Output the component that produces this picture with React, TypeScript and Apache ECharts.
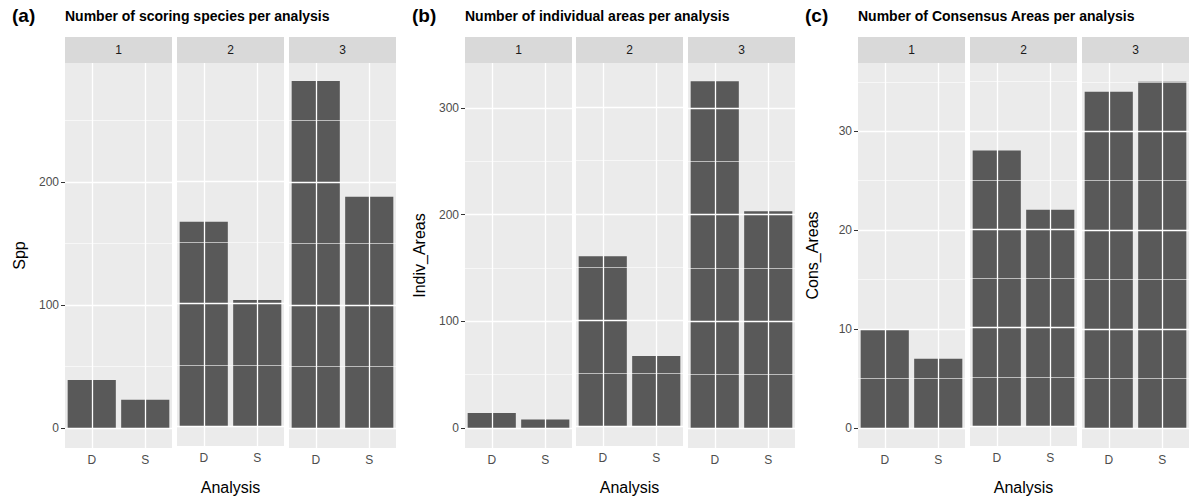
import { useEffect, useRef } from "react";
import * as echarts from "echarts";

const analyses = ["D", "S"];
const facets = ["1", "2", "3"];

const sppValues = [[39, 23], [167, 103], [282, 188]];
const indivValues = [[14, 8], [160, 66], [325, 203]];
const consValues = [[10, 7], [28, 22], [34, 35]];

const sppMajor = [0, 100, 200];
const sppMinor = [50, 150, 250];
const indivMajor = [0, 100, 200, 300];
const indivMinor = [50, 150, 250];
const consMajor = [0, 10, 20, 30];
const consMinor = [5, 15, 25, 35];

const panels = [
  { letter: "(a)", title: "Number of scoring species per analysis", yName: "Spp", values: sppValues, major: sppMajor, minor: sppMinor, min: -16.3, max: 296.7, lefts: [65, 177, 289] },
  { letter: "(b)", title: "Number of individual areas per analysis", yName: "Indiv_Areas", values: indivValues, major: indivMajor, minor: indivMinor, min: -18.7, max: 342, lefts: [465, 576, 688] },
  { letter: "(c)", title: "Number of Consensus Areas per analysis", yName: "Cons_Areas", values: consValues, major: consMajor, minor: consMinor, min: -2.02, max: 36.9, lefts: [858, 970, 1082] },
];

const FW = 107;
const TOP = 63;
const H = 385;

const App = () => {
  const chartRef = useRef(null);

  useEffect(() => {
    document.body.style.margin = "0";
    if (!chartRef.current) return;
    const chart = echarts.init(chartRef.current, null, { renderer: "svg" });
    const grid: any[] = [];
    const xAxis: any[] = [];
    const yAxis: any[] = [];
    const series: any[] = [];
    const graphic: any[] = [];
    let idx = 0;
    panels.forEach((p, pi) => {
      graphic.push({ type: "text", left: p.lefts[0] - 53, top: 6, style: { text: p.letter, font: "bold 19px Liberation Sans", fill: "#000" } });
      graphic.push({ type: "text", left: p.lefts[0], top: 9, style: { text: p.title, font: "bold 14px Liberation Sans", fill: "#000" } });
      facets.forEach((f, fi) => {
        const left = p.lefts[fi];
        grid.push({ left, top: TOP, width: FW, height: H, show: true, backgroundColor: "#EBEBEB", borderWidth: 0 });
        graphic.push({ type: "rect", shape: { x: left, y: 37, width: FW, height: 26 }, style: { fill: "#D9D9D9" } });
        graphic.push({ type: "text", x: left + FW / 2, y: 50, style: { text: f, font: "12px Liberation Sans", fill: "#1A1A1A", align: "center", verticalAlign: "middle" } });
        xAxis.push({
          type: "category", gridIndex: idx, data: analyses,
          axisLine: { show: false },
          axisTick: { alignWithLabel: true, length: 4, lineStyle: { color: "#333" } },
          axisLabel: { color: "#4D4D4D", fontSize: 12, margin: 6, fontFamily: "Liberation Sans" },
          name: fi === 1 ? "Analysis" : "", nameLocation: "middle", nameGap: 33,
          nameTextStyle: { fontSize: 16, color: "#000", fontFamily: "Liberation Sans" },
        });
        yAxis.push({
          type: "value", gridIndex: idx, min: p.min, max: p.max,
          splitLine: { show: false }, axisLine: { show: false },
          axisTick: { show: fi === 0, length: 4, lineStyle: { color: "#333" }, customValues: p.major },
          axisLabel: { show: fi === 0, color: "#4D4D4D", fontSize: 12, margin: 6, fontFamily: "Liberation Sans", customValues: p.major },
          name: fi === 0 ? p.yName : "", nameLocation: "middle", nameRotate: 90, nameGap: 38,
          nameTextStyle: { fontSize: 16, color: "#000", fontFamily: "Liberation Sans" },
        });
        series.push({
          type: "line", xAxisIndex: idx, yAxisIndex: idx, data: [], z: 1, silent: true,
          markLine: {
            silent: true, symbol: "none", label: { show: false },
            data: [
              ...p.minor.map((v) => ({ yAxis: v, lineStyle: { color: "#fff", width: 0.6, type: "solid" } })),
              ...p.major.map((v) => ({ yAxis: v, lineStyle: { color: "#fff", width: 1.3, type: "solid" } })),
              ...analyses.map((a) => ({ xAxis: a, lineStyle: { color: "#fff", width: 1.3, type: "solid" } })),
            ],
          },
        });
        series.push({
          type: "bar", xAxisIndex: idx, yAxisIndex: idx, data: p.values[fi], z: 2,
          barWidth: "90%", itemStyle: { color: "#595959" },
        });
        idx++;
      });
    });
    chart.setOption({ animation: false, grid, xAxis, yAxis, series, graphic });
    return () => chart.dispose();
  }, []);

  return <div ref={chartRef} style={{ width: "1200px", height: "500px" }}></div>;
};

export default App;
